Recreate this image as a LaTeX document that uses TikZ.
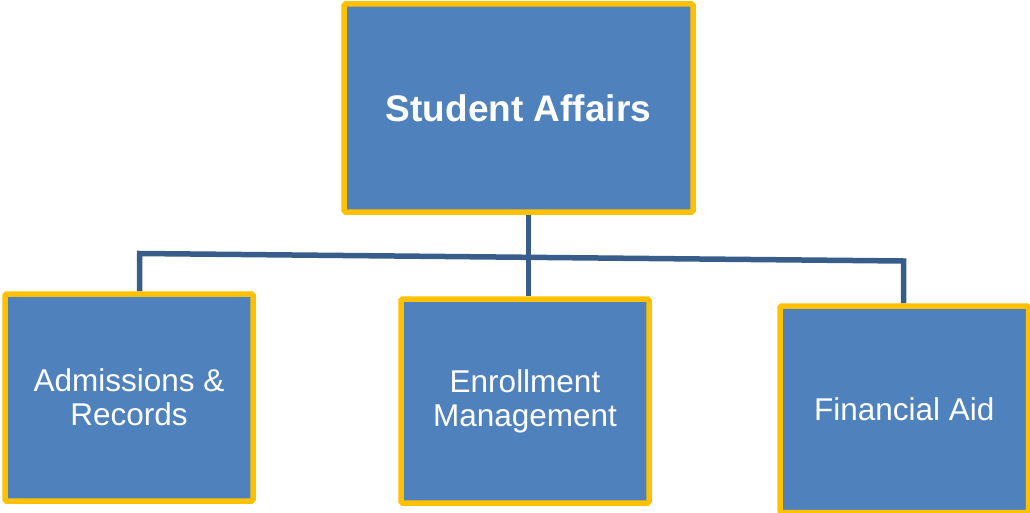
\documentclass[tikz,border=0pt]{standalone}
\usepackage{fontspec}
\setmainfont{Liberation Sans}
\usepackage{xcolor}
\usetikzlibrary{positioning, backgrounds}
\definecolor{unitblue}{RGB}{79, 129, 189}
\definecolor{framegold}{RGB}{255, 192, 0}
\definecolor{linkblue}{RGB}{56, 93, 138}

\begin{document}
\begin{tikzpicture}[
    x=1pt, y=-1pt,
    box/.style={draw=framegold, fill=unitblue, line width=5.5pt, rounded corners=1.5pt, text=white, align=center, minimum width=248pt, minimum height=205pt, inner sep=0pt, font=\fontsize{31.5}{34}\selectfont},
    head/.style={box, minimum width=349pt, minimum height=208pt, font=\bfseries\fontsize{37}{40}\selectfont},
    link/.style={draw=linkblue, line width=5.5pt}
]
    \useasboundingbox (0,0) rectangle (1030,513);
    \node[head] (affairs) at (518.5,108) {Student Affairs};
    \node[box, minimum height=207pt] (admissions) at (129,397.5) {Admissions \&\\Records};
    \node[box, minimum height=204pt] (enrollment) at (525,401) {Enrollment\\Management};
    \node[box, minimum width=248.5pt, minimum height=206.5pt] (finaid) at (904.25,409.25) {Financial Aid};

    \coordinate (jleft) at (139.5,253.5);
    \coordinate (jmid) at (528.5,256);
    \coordinate (jright) at (903.5,261);

    \begin{scope}[on background layer]
    \draw[link] (admissions.north -| jleft) -- (jleft) -- (jright) -- (finaid.north -| jright);
    \draw[link] (affairs.south -| jmid) -- (enrollment.north -| jmid);
    \end{scope}
\end{tikzpicture}
\end{document}
